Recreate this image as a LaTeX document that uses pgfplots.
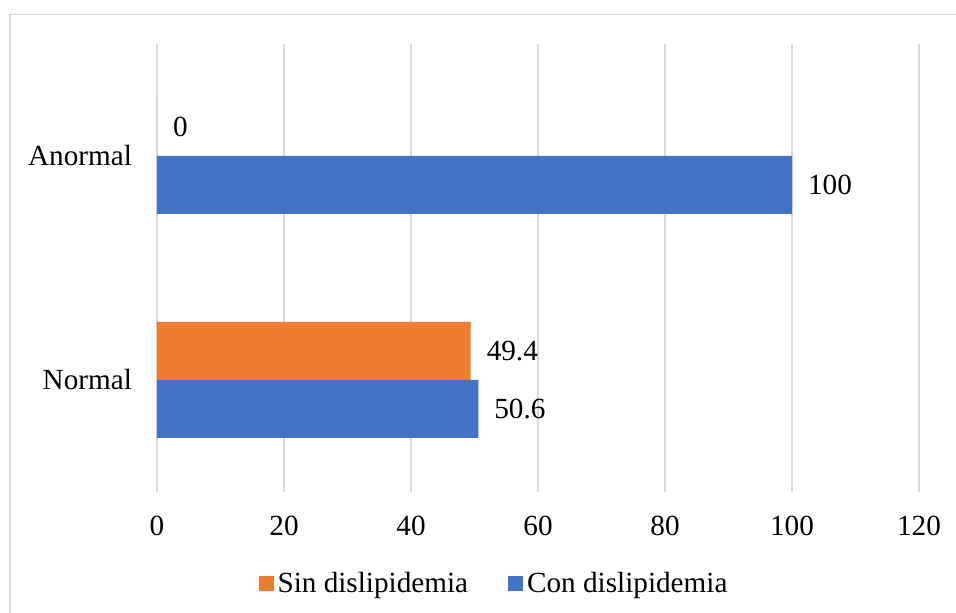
\documentclass[border=0pt]{standalone}
\usepackage{fontspec}
\setmainfont{Liberation Serif}
\usepackage{pgfplots}
\pgfplotsset{compat=1.18}
\definecolor{cblue}{HTML}{4472C4}
\definecolor{corange}{HTML}{ED7D31}
\definecolor{cgrid}{HTML}{D9D9D9}
\begin{document}
\begin{tikzpicture}
\useasboundingbox (-78.5pt,-60.5pt) rectangle (399.5pt,246pt);
\draw[cgrid, line width=0.9pt] (-73.5pt,-80pt) -- (-73.5pt,238.75pt) -- (420pt,238.75pt);
\begin{axis}[
  at={(0pt,0pt)}, anchor=south west,
  scale only axis, width=381pt, height=224pt,
  xbar, bar width=29pt,
  xmin=0, xmax=120, ymin=-0.5, ymax=1.5,
  xtick={0,20,...,120},
  ytick={0,1}, yticklabels={Normal,Anormal},
  axis line style={draw=none},
  major tick length=0pt,
  xmajorgrids, grid style={cgrid, line width=0.9pt},
  font=\fontsize{14.6}{17}\selectfont,
  /pgf/number format/assume math mode=true,
  /pgf/number format/fixed, /pgf/number format/precision=1,
  xticklabel style={yshift=-8.5pt},
  yticklabel style={xshift=-9pt},
  nodes near coords,
  nodes near coords style={anchor=west, xshift=4.5pt, text=black},
  legend style={at={(0.4436,-0.205)}, anchor=center, draw=none, legend columns=2,
    /tikz/every even column/.append style={column sep=18pt}, inner sep=0pt},
  legend cell align=left,
  legend image code/.code={\fill[#1] (0pt,-3.75pt) rectangle (7.5pt,3.75pt);},
]
\addplot[fill=corange, draw=none, bar shift=14.5pt] coordinates {(49.4,0) (0,1)};
\addlegendentry{Sin dislipidemia}
\addplot[fill=cblue, draw=none, bar shift=-14.5pt] coordinates {(50.6,0) (100,1)};
\addlegendentry{Con dislipidemia}
\end{axis}
\end{tikzpicture}
\end{document}
